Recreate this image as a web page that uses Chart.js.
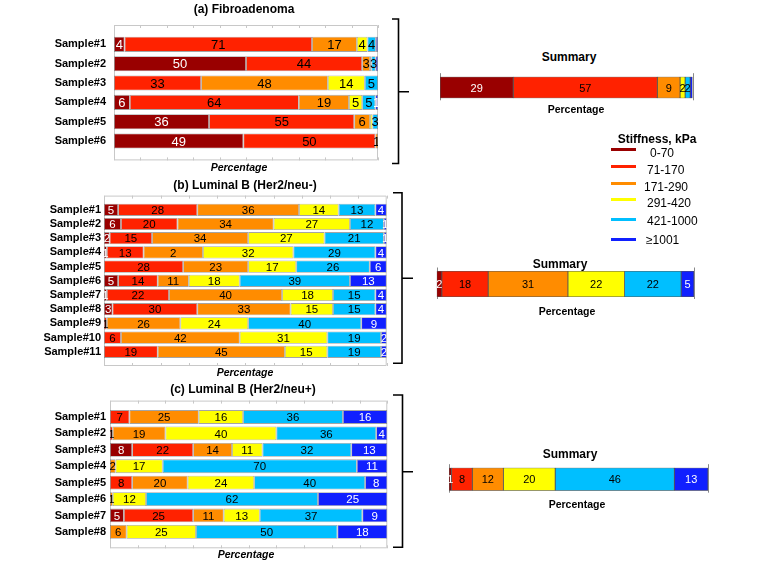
<!DOCTYPE html>
<html>
<head>
<meta charset="utf-8">
<script src="https://cdn.jsdelivr.net/npm/chart.js@4.4.1/dist/chart.umd.min.js"></script>
<style>
body { margin: 0; width: 765px; height: 563px; background: #fff; position: relative; overflow: hidden; font-family: "Liberation Sans", Arial, sans-serif; }
canvas { position: absolute; }
.t { position: absolute; white-space: nowrap; transform: translate(-50%, -50%); font-weight: bold; color: #000; }
.lg { position: absolute; white-space: nowrap; transform: translateY(-50%); font-size: 12px; color: #000; }
.ln { position: absolute; width: 25px; height: 3px; }
svg { position: absolute; left: 0; top: 0; }
</style>
</head>
<body>
<canvas id="fibro" style="left:0;top:0" width="390" height="175"></canvas>
<canvas id="lumNeg" style="left:0;top:186px" width="390" height="190"></canvas>
<canvas id="lumPos" style="left:0;top:390px" width="390" height="170"></canvas>
<canvas id="sumFibro" style="left:425px;top:65px" width="280" height="45"></canvas>
<canvas id="sumNeg" style="left:425px;top:260px" width="280" height="45"></canvas>
<canvas id="sumPos" style="left:435px;top:455px" width="290" height="45"></canvas>

<div class="t" style="left:244px;top:9px;font-size:12px">(a) Fibroadenoma</div>
<div class="t" style="left:239px;top:167px;font-size:10.5px;font-style:italic">Percentage</div>
<div class="t" style="left:245px;top:185px;font-size:12px">(b) Luminal B (Her2/neu-)</div>
<div class="t" style="left:245px;top:372px;font-size:10.5px;font-style:italic">Percentage</div>
<div class="t" style="left:243px;top:389px;font-size:12px">(c) Luminal B (Her2/neu+)</div>
<div class="t" style="left:246px;top:554px;font-size:10.5px;font-style:italic">Percentage</div>

<div class="t" style="left:569px;top:57px;font-size:12px">Summary</div>
<div class="t" style="left:576px;top:109px;font-size:10.5px">Percentage</div>
<div class="t" style="left:560px;top:264px;font-size:12px">Summary</div>
<div class="t" style="left:567px;top:311px;font-size:10.5px">Percentage</div>
<div class="t" style="left:570px;top:454px;font-size:12px">Summary</div>
<div class="t" style="left:577px;top:504px;font-size:10.5px">Percentage</div>

<div class="t" style="left:657px;top:139px;font-size:12px">Stiffness, kPa</div>
<div id="legend"></div>

<svg width="765" height="563">
  <path d="M392,19 H398.5 V163.5 H392 M398.5,91.7 H409" fill="none" stroke="#000" stroke-width="1.6"/>
  <path d="M393,192.7 H402 V363.3 H393 M402,278.3 H413" fill="none" stroke="#000" stroke-width="1.6"/>
  <path d="M393,395 H402.5 V547.3 H393 M402.5,471.7 H413" fill="none" stroke="#000" stroke-width="1.6"/>
</svg>

<script>
// stiffness bands (kPa) and their colours
const bands = ['0-70', '71-170', '171-290', '291-420', '421-1000', '\u22651001'];
const bandColors = ['#990000', '#FF2200', '#FF8C00', '#FFFF00', '#00BFFF', '#1020FF'];

const samplesA = ['Sample#1', 'Sample#2', 'Sample#3', 'Sample#4', 'Sample#5', 'Sample#6'];
const samplesB = ['Sample#1', 'Sample#2', 'Sample#3', 'Sample#4', 'Sample#5', 'Sample#6',
    'Sample#7', 'Sample#8', 'Sample#9', 'Sample#10', 'Sample#11'];
const samplesC = ['Sample#1', 'Sample#2', 'Sample#3', 'Sample#4', 'Sample#5', 'Sample#6',
    'Sample#7', 'Sample#8'];

// percentage per band, one row per sample
const fibroadenoma = [
    [4, 71, 17, 4, 3.2, 0.8],
    [50, 44, 3, 0.5, 1.6, 0.9],
    [0, 33, 48, 14, 5, 0],
    [6, 64, 19, 5, 5, 1],
    [36, 55, 6, 0.9, 2.1, 0],
    [49, 50, 1, 0, 0, 0]
];
const luminalNeg = [
    [5, 28, 36, 14, 13, 4],
    [6, 20, 34, 27, 12, 1],
    [2, 15, 34, 27, 21, 1],
    [1, 13, 21, 32, 29, 4],
    [0, 28, 23, 17, 26, 6],
    [5, 14, 11, 18, 39, 13],
    [1, 22, 40, 18, 15, 4],
    [3, 30, 33, 15, 15, 4],
    [0, 1, 26, 24, 40, 9],
    [0, 6, 42, 31, 19, 2],
    [0, 19, 45, 15, 19, 2]
];
const luminalPos = [
    [0, 7, 25, 16, 36, 16],
    [0, 1, 19, 40, 36, 4],
    [8, 22, 14, 11, 32, 13],
    [0, 0, 2, 17, 70, 11],
    [0, 8, 20, 24, 40, 8],
    [0, 0, 1, 12, 62, 25],
    [5, 25, 11, 13, 37, 9],
    [0, 0, 6, 25, 51, 18]
];
const summaryFibro = [29, 57, 9, 2, 2, 0.9];
const summaryNeg = [2, 18, 31, 22, 22, 5];
const summaryPos = [1, 8, 12, 20, 46, 13];

// printed labels that differ from the segment width: [sample, band, text]
const fixesA = [[0, 4, '4'], [1, 4, '3'], [4, 4, '3']];
const fixesB = [[3, 2, '2']];
const fixesC = [[7, 4, '50']];

// legend
const legend = document.getElementById('legend');
const legendY = [149.5, 166.5, 183, 199.5, 219.5, 239];
const legendTextX = [650, 647, 644, 647, 647, 646];
const legendTextY = [153, 169.5, 186.5, 202.5, 221, 240];
bands.forEach((b, i) => {
    legend.insertAdjacentHTML('beforeend',
        `<div class="ln" style="left:611px;top:${legendY[i] - 1.5}px;background:${bandColors[i]}"></div>` +
        `<div class="lg" style="left:${legendTextX[i]}px;top:${legendTextY[i]}px">${b}</div>`);
});

const framePlugin = {
    id: 'frame',
    beforeDatasetsDraw(chart, args, opts) {
        const ctx = chart.ctx;
        const a = chart.chartArea;
        const x = chart.scales.x;
        ctx.save();
        ctx.strokeStyle = '#c8c8c8';
        ctx.lineWidth = 1;
        ctx.beginPath();
        if (opts.mode === 'box') {
            ctx.rect(a.left + 0.5, a.top + 0.5, a.width - 1, a.height - 1);
            x.ticks.forEach(t => {
                const px = Math.round(x.getPixelForValue(t.value)) + 0.5;
                ctx.moveTo(px, a.top);
                ctx.lineTo(px, a.top + 3);
                ctx.moveTo(px, a.bottom);
                ctx.lineTo(px, a.bottom - 3);
            });
        } else {
            ctx.strokeStyle = '#888';
            [a.left, a.right].forEach(px => {
                ctx.moveTo(Math.round(px) + 0.5, a.top - 3.5);
                ctx.lineTo(Math.round(px) + 0.5, a.bottom + 2);
            });
        }
        ctx.stroke();
        ctx.restore();
    }
};

const labelPlugin = {
    id: 'segLabels',
    afterDatasetsDraw(chart, args, opts) {
        const ctx = chart.ctx;
        const a = chart.chartArea;
        ctx.save();
        ctx.beginPath();
        ctx.rect(a.left, a.top, a.width, a.height);
        ctx.clip();
        ctx.font = opts.font;
        ctx.textAlign = 'center';
        ctx.textBaseline = 'middle';
        chart.data.datasets.forEach((ds, di) => {
            chart.getDatasetMeta(di).data.forEach((bar, i) => {
                const v = ds.data[i];
                if (v == null || v < 1) return;
                const fix = (opts.fixes || []).find(f => f[0] + opts.shift === i && f[1] === di);
                const txt = fix ? fix[2] : String(Math.round(v));
                const p = bar.getProps(['x', 'y', 'base'], true);
                ctx.fillStyle = (di === 0 || di === 5) ? '#fff' : '#000';
                ctx.fillText(txt, (p.x + p.base) / 2, p.y + 1);
            });
        });
        ctx.restore();
    }
};

function panel(id, names, rows, fixes, o) {
    const labels = ['', ...names, ''];
    const datasets = bands.map((b, di) => ({
        label: b,
        data: [null, ...rows.map(r => r[di]), null],
        backgroundColor: bandColors[di],
        borderColor: 'rgba(90,90,90,0.55)',
        borderWidth: 0.8,
        borderSkipped: false,
        categoryPercentage: 1,
        barPercentage: o.bar
    }));
    return new Chart(document.getElementById(id), {
        type: 'bar',
        data: { labels, datasets },
        options: {
            indexAxis: 'y',
            responsive: false,
            animation: false,
            events: [],
            layout: { padding: o.pad },
            scales: {
                x: { type: 'linear', stacked: true, min: 0, max: 100, display: false, ticks: { stepSize: 10 } },
                y: {
                    type: 'category', stacked: true, offset: false,
                    grid: { display: false, drawTicks: false }, border: { display: false },
                    ticks: {
                        autoSkip: false, color: '#000', padding: o.tickPad,
                        font: { family: 'Liberation Sans, Arial, sans-serif', weight: 'bold', size: 11 }
                    },
                    afterFit: s => { s.width = o.axisW; }
                }
            },
            plugins: {
                legend: { display: false },
                tooltip: { enabled: false },
                frame: { mode: 'box' },
                segLabels: { font: o.font, fixes, shift: 1 }
            }
        },
        plugins: [framePlugin, labelPlugin]
    });
}

function summary(id, values, pad) {
    const datasets = bands.map((b, di) => ({
        label: b,
        data: [values[di]],
        backgroundColor: bandColors[di],
        borderColor: '#555',
        borderWidth: 0.8,
        borderSkipped: false,
        categoryPercentage: 1,
        barPercentage: 1
    }));
    return new Chart(document.getElementById(id), {
        type: 'bar',
        data: { labels: ['Summary'], datasets },
        options: {
            indexAxis: 'y',
            responsive: false,
            animation: false,
            events: [],
            layout: { padding: pad },
            scales: {
                x: { type: 'linear', stacked: true, min: 0, max: 100, display: false },
                y: { stacked: true, display: false }
            },
            plugins: {
                legend: { display: false },
                tooltip: { enabled: false },
                frame: { mode: 'ends' },
                segLabels: { font: '11px "Liberation Sans Narrow", "Liberation Sans", sans-serif', fixes: [], shift: 0 }
            }
        },
        plugins: [framePlugin, labelPlugin]
    });
}

panel('fibro', samplesA, fibroadenoma, fixesA, {
    pad: { top: 25, bottom: 12, right: 12, left: 0 }, axisW: 114, tickPad: 8, bar: 0.78,
    font: '13px "Liberation Sans", Arial, sans-serif'
});
panel('lumNeg', samplesB, luminalNeg, fixesB, {
    pad: { top: 7.3, bottom: 10, right: 3.3, left: 0 }, axisW: 104, tickPad: 3, bar: 0.86,
    font: '11.5px "Liberation Sans", Arial, sans-serif'
});
panel('lumPos', samplesC, luminalPos, fixesC, {
    pad: { top: 4.3, bottom: 11.7, right: 2.7, left: 0 }, axisW: 110, tickPad: 4, bar: 0.84,
    font: '11.5px "Liberation Sans", Arial, sans-serif'
});
summary('sumFibro', summaryFibro, { left: 15, right: 12.3, top: 11.7, bottom: 11.7 });
summary('sumNeg', summaryNeg, { left: 11.7, right: 11, top: 11, bottom: 8 });
summary('sumPos', summaryPos, { left: 14, right: 17, top: 12.7, bottom: 9.3 });
</script>
</body>
</html>
